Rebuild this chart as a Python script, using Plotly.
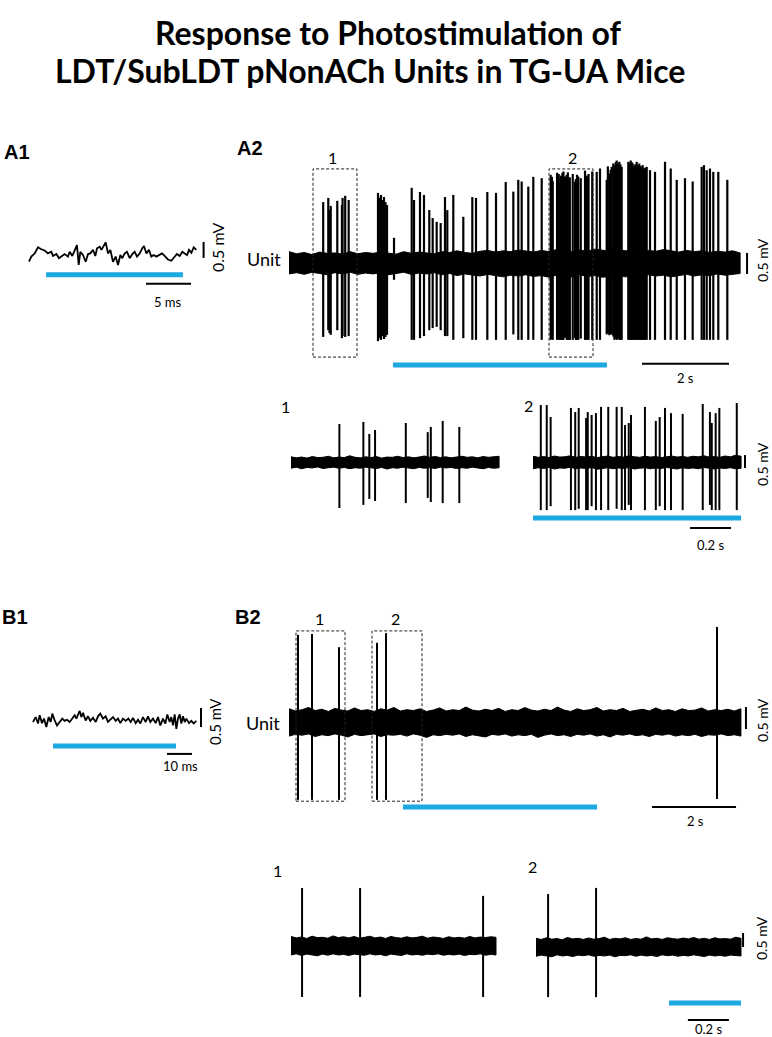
import numpy as np
import plotly.graph_objects as go

# ------------------------------------------------------------------ data
# A1: averaged trace around the light pulse (ms, mV)
A1_t = [0, 0.26, 0.63, 1.0, 1.37, 1.74, 2.11, 2.48, 2.67, 3.04, 3.33, 3.59, 3.96, 4.33, 4.52, 4.81, 5.07,
        5.33, 5.52, 5.70, 6.0, 6.30, 6.56, 6.81, 7.11, 7.37, 7.56, 7.85, 8.04, 8.30, 8.52, 8.78, 9.04, 9.33,
        9.63, 9.89, 10.15, 10.37, 10.63, 10.89, 11.19, 11.48, 11.74, 12.0, 12.30, 12.59, 12.78, 13.04, 13.33,
        13.59, 13.85, 14.15, 14.44, 14.78, 15.07, 15.44, 15.81, 16.19, 16.44, 16.74, 17.04, 17.30, 17.56,
        17.78, 18.04, 18.30, 18.59]
A1_v = [-0.21, -0.05, 0.05, 0.24, 0.18, 0.14, 0.05, 0.10, -0.03, 0.03, -0.10, -0.05, 0.03, -0.05, 0.10, -0.03,
        0.16, 0.31, -0.31, 0.10, 0.0, -0.21, 0.03, 0.05, 0.16, -0.03, 0.21, 0.26, 0.16, 0.31, 0.39, 0.05, 0.16,
        -0.21, -0.05, -0.31, 0.0, -0.10, 0.05, 0.10, -0.10, 0.03, 0.10, -0.05, 0.05, 0.21, 0.28, 0.05, 0.16,
        -0.05, 0.0, -0.05, 0.0, 0.05, -0.03, -0.14, -0.18, -0.05, 0.03, -0.03, 0.10, 0.05, 0.0, 0.16, 0.07,
        0.24, 0.16]
A1_stim = [1.9, 17.1]          # ms
A1_scale_t = 5                 # ms
A1_scale_v = 0.5               # mV

# B1
B1_t = [0, 1.07, 2.0, 2.67, 3.6, 4.4, 5.33, 6.27, 7.07, 7.73, 8.67, 9.6, 10.67, 11.73, 12.67, 13.6, 14.67,
        15.73, 16.67, 17.33, 18.0, 18.67, 19.33, 20.0, 21.07, 22.0, 22.93, 24.0, 25.07, 26.0, 26.93, 28.0,
        29.07, 30.0, 30.93, 32.0, 33.07, 34.0, 34.93, 36.0, 37.07, 38.13, 39.07, 40.0, 41.07, 42.0, 42.93,
        44.0, 45.07, 46.0, 46.93, 48.0, 49.07, 50.0, 50.93, 52.0, 52.93, 53.73, 54.67, 55.33, 56.0, 56.67,
        57.33, 58.0, 58.67, 59.33, 60.0, 60.67, 61.33, 62.4, 63.33, 64.27, 65.33]
B1_v = [0.0, 0.13, -0.04, 0.18, -0.03, 0.09, -0.13, 0.13, 0.0, 0.22, 0.04, -0.09, 0.0, 0.09, 0.03, 0.06, 0.0,
        0.09, 0.18, 0.09, 0.2, 0.29, 0.13, 0.24, 0.04, 0.15, 0.03, 0.11, 0.0, 0.15, 0.22, 0.09, 0.15, 0.0,
        0.06, 0.13, 0.03, 0.09, -0.03, 0.09, 0.03, 0.09, 0.0, 0.11, -0.03, 0.06, -0.04, 0.13, 0.0, 0.15, 0.0,
        0.09, -0.03, 0.13, -0.09, 0.09, -0.04, 0.2, 0.0, 0.13, -0.09, 0.2, -0.18, 0.09, 0.2, -0.04, 0.15, 0.0,
        0.09, -0.03, 0.03, -0.04, 0.03]
B1_stim = [8.0, 57.2]          # ms
B1_scale_t = 10                # ms

# A2 main recording (s, mV)
A2_dur = 10.37
A2_band_up = [0.27, 0.22, 0.25, 0.20, 0.26, 0.23, 0.24, 0.21, 0.27, 0.22, 0.25, 0.23, 0.26, 0.24, 0.21, 0.27,
              0.23, 0.26, 0.24, 0.22, 0.27, 0.25, 0.29, 0.25, 0.23, 0.28, 0.30, 0.26, 0.29, 0.27, 0.31, 0.28,
              0.26, 0.30, 0.27, 0.32, 0.29, 0.27, 0.31, 0.28, 0.33, 0.30, 0.28, 0.32, 0.29, 0.31, 0.27, 0.30,
              0.28, 0.32, 0.29, 0.26, 0.30, 0.27, 0.29, 0.25, 0.28, 0.26, 0.29, 0.24]
A2_band_lo = [-0.26, -0.23, -0.27, -0.22, -0.25, -0.28, -0.23, -0.26, -0.22, -0.27, -0.24, -0.26, -0.23, -0.28,
              -0.25, -0.22, -0.27, -0.24, -0.26, -0.23, -0.28, -0.25, -0.30, -0.26, -0.28, -0.31, -0.27, -0.30,
              -0.33, -0.29, -0.31, -0.28, -0.32, -0.30, -0.34, -0.29, -0.31, -0.33, -0.28, -0.32, -0.30, -0.34,
              -0.31, -0.29, -0.33, -0.30, -0.32, -0.28, -0.31, -0.29, -0.33, -0.30, -0.27, -0.31, -0.28, -0.30,
              -0.26, -0.29, -0.27, -0.25]
A2_spk_t = [0.786, 0.903, 0.931, 0.959, 1.110, 1.216, 1.232, 1.292, 1.372,
            2.046, 2.080, 2.115, 2.149, 2.184, 2.218, 2.253, 2.414,
            2.821, 2.874, 3.011, 3.103, 3.225, 3.303, 3.395, 3.487, 3.586, 3.639, 3.777, 4.007, 4.214, 4.299,
            4.559, 4.759, 4.982,
            5.157, 5.271, 5.349, 5.501, 5.616, 5.809,
            6.015, 6.044, 6.063, 6.162, 6.183, 6.200, 6.236, 6.244, 6.263, 6.284, 6.309, 6.344, 6.385, 6.410,
            6.426, 6.444, 6.455, 6.523, 6.576, 6.595, 6.621, 6.650, 6.707, 6.805, 6.840, 6.849, 6.868, 6.886,
            6.971,
            7.074, 7.149, 7.303, 7.330, 7.363, 7.395, 7.418, 7.455, 7.480, 7.510, 7.533, 7.565, 7.593, 7.620,
            7.648, 7.800, 7.830, 7.855, 7.880, 7.901, 7.930, 7.960, 7.993, 8.025, 8.053, 8.080, 8.108, 8.130,
            8.161, 8.190, 8.223, 8.299, 8.414, 8.644, 8.775, 8.913, 9.103, 9.280, 9.487, 9.540, 9.602, 9.678,
            9.754, 9.869, 10.076]
A2_spk_top = [1.45, 1.55, 1.26, 1.36, 1.48, 1.38, 1.55, 1.60, 1.50,
              1.67, 1.55, 1.62, 1.50, 1.57, 1.45, 1.38, 0.60,
              1.79, 1.50, 1.69, 1.62, 1.26, 1.07, 0.98, 0.95, 1.57, 1.26, 1.62, 1.10, 1.57, 1.55,
              1.69, 1.67, 1.93,
              1.70, 1.98, 1.94, 1.82, 2.05, 2.02,
              2.10, 2.05, 1.95, 2.15, 2.00, 2.12, 1.92, 2.08, 2.02, 2.14, 2.18, 2.06, 2.10, 2.16,
              1.90, 1.96, 2.04, 2.12, 1.94, 2.00, 2.10, 2.06, 2.02, 2.20, 2.08, 1.92, 2.04, 2.12,
              2.18,
              2.17, 2.25, 1.98, 2.30, 2.13, 2.22, 2.29, 2.37, 2.33, 2.40, 2.44, 2.36, 2.41, 2.35,
              2.29, 2.41, 2.38, 2.44, 2.40, 2.37, 2.30, 2.35, 2.41, 2.33, 2.37, 2.31, 2.29, 2.33,
              2.25, 2.27, 2.29, 2.21, 2.17, 2.41, 2.25, 1.98, 2.02, 1.94, 2.29, 2.33, 2.21, 2.25,
              2.17, 2.17, 1.98]
A2_spk_bot = [-1.76, -1.60, -1.67, -1.71, -1.60, -1.79, -1.74, -1.76, -1.74,
              -1.86, -1.79, -1.83, -1.74, -1.81, -1.76, -1.71, -0.40,
              -1.83, -1.83, -1.79, -1.74, -1.60, -1.55, -1.52, -1.60, -1.74, -1.74, -1.83, -1.79, -1.83, -1.83,
              -1.83, -1.83, -1.83,
              -1.70, -1.83, -1.83, -1.83, -1.83, -1.83,
              -1.83, -1.80, -1.83, -1.83, -1.78, -1.83, -1.83, -1.80, -1.83, -1.83, -1.83, -1.78, -1.83, -1.83,
              -1.80, -1.83, -1.83, -1.83, -1.78, -1.83, -1.83, -1.83, -1.80, -1.83, -1.83, -1.83, -1.78, -1.83,
              -1.83,
              -1.83, -1.83, -1.70, -1.68, -1.72, -1.70, -1.70, -1.75, -1.83, -1.80, -1.83, -1.80, -1.83, -1.83,
              -1.83, -1.83, -1.83, -1.83, -1.83, -1.83, -1.83, -1.83, -1.83, -1.83, -1.83, -1.83, -1.83, -1.83,
              -1.83, -1.83, -1.83, -1.83, -1.83, -1.83, -1.83, -1.83, -1.83, -1.83, -1.83, -1.83, -1.83, -1.83,
              -1.83, -1.83, -1.83]
A2_stim = [2.39, 7.31]
A2_boxes = [[0.552, 1.563], [5.977, 6.989]]
A2_box_v = [-2.24, 2.24]
A2_scale_t = 2      # s

# A2 insets (1 s windows)
A2i_dur = 1.015
A2i1_band_up = [0.20, 0.16, 0.19, 0.15, 0.21, 0.17, 0.18, 0.22, 0.16, 0.19, 0.17, 0.24, 0.18, 0.16, 0.20, 0.17,
                0.21, 0.15, 0.19, 0.18, 0.22, 0.17, 0.20, 0.16, 0.19, 0.23, 0.18, 0.21, 0.17, 0.20, 0.16, 0.19,
                0.22, 0.18, 0.20, 0.16, 0.21, 0.18, 0.19, 0.22]
A2i1_band_lo = [-0.24, -0.20, -0.26, -0.21, -0.23, -0.19, -0.25, -0.22, -0.20, -0.24, -0.21, -0.26, -0.22, -0.24,
                -0.20, -0.23, -0.25, -0.21, -0.27, -0.22, -0.24, -0.20, -0.23, -0.26, -0.21, -0.24, -0.22, -0.25,
                -0.20, -0.23, -0.21, -0.25, -0.22, -0.24, -0.20, -0.23, -0.26, -0.21, -0.24, -0.22]
A2i1_spk_t = [0.236, 0.353, 0.382, 0.410, 0.560, 0.667, 0.682, 0.740, 0.821]
A2i1_spk_top = [1.46, 1.54, 1.08, 1.23, 1.50, 1.15, 1.35, 1.58, 1.35]
A2i1_spk_bot = [-1.77, -1.65, -1.42, -1.50, -1.58, -1.38, -1.54, -1.58, -1.58]

A2i2_band_up = [0.22, 0.18, 0.21, 0.17, 0.23, 0.19, 0.20, 0.24, 0.18, 0.21, 0.19, 0.22, 0.17, 0.20, 0.23, 0.18,
                0.21, 0.19, 0.24, 0.20, 0.18, 0.22, 0.19, 0.21, 0.17, 0.20, 0.23, 0.19, 0.21, 0.18, 0.22, 0.20,
                0.24, 0.19, 0.21, 0.18, 0.23, 0.20, 0.26, 0.22]
A2i2_band_lo = [-0.26, -0.22, -0.25, -0.21, -0.27, -0.23, -0.24, -0.20, -0.26, -0.23, -0.25, -0.21, -0.28, -0.24,
                -0.22, -0.26, -0.23, -0.25, -0.21, -0.27, -0.24, -0.22, -0.26, -0.23, -0.25, -0.21, -0.24, -0.27,
                -0.22, -0.25, -0.23, -0.26, -0.21, -0.24, -0.27, -0.23, -0.25, -0.22, -0.26, -0.24]
A2i2_spk_t = [0.038, 0.067, 0.086, 0.185, 0.206, 0.223, 0.259, 0.267, 0.286, 0.307, 0.332, 0.367, 0.408, 0.433,
              0.449, 0.467, 0.478, 0.546, 0.599, 0.618, 0.644, 0.673, 0.730, 0.828, 0.863, 0.872, 0.891, 0.909,
              0.994]
A2i2_spk_top = [2.19, 2.19, 1.73, 2.08, 1.92, 2.08, 1.69, 1.92, 1.81, 1.88, 2.12, 2.12, 2.12, 2.12, 1.42, 1.50,
                1.81, 2.12, 1.58, 1.73, 2.08, 1.88, 1.85, 2.23, 1.92, 1.50, 1.88, 2.08, 2.27]
A2i2_spk_bot = [-1.85, -1.85, -1.70, -1.85, -1.85, -1.80, -1.85, -1.85, -1.70, -1.85, -1.85, -1.85, -1.80, -1.85,
                -1.85, -1.65, -1.85, -1.85, -1.85, -1.70, -1.85, -1.85, -1.85, -1.85, -1.65, -1.85, -1.85, -1.85,
                -1.85]
A2i_scale_t = 0.2   # s

# B2 main recording
B2_dur = 10.76
B2_band_up = [0.30, 0.25, 0.28, 0.33, 0.26, 0.29, 0.24, 0.31, 0.27, 0.25, 0.32, 0.26, 0.28, 0.24, 0.30, 0.27,
              0.33, 0.25, 0.28, 0.26, 0.30, 0.24, 0.27, 0.32, 0.25, 0.28, 0.26, 0.34, 0.27, 0.25, 0.29, 0.26,
              0.31, 0.24, 0.28, 0.26, 0.33, 0.27, 0.25, 0.29, 0.26, 0.34, 0.27, 0.24, 0.30, 0.26, 0.28, 0.33,
              0.25, 0.28, 0.26, 0.31, 0.24, 0.27, 0.29, 0.25, 0.32, 0.26, 0.28, 0.24, 0.30, 0.26, 0.27, 0.32,
              0.25, 0.28, 0.26, 0.29, 0.25, 0.30]
B2_band_lo = [-0.32, -0.28, -0.30, -0.27, -0.33, -0.29, -0.31, -0.27, -0.30, -0.34, -0.28, -0.31, -0.29, -0.27,
              -0.33, -0.29, -0.30, -0.28, -0.32, -0.27, -0.30, -0.35, -0.29, -0.31, -0.28, -0.30, -0.27, -0.33,
              -0.29, -0.31, -0.34, -0.28, -0.30, -0.27, -0.32, -0.29, -0.31, -0.28, -0.35, -0.30, -0.27, -0.31,
              -0.29, -0.33, -0.28, -0.30, -0.27, -0.32, -0.29, -0.34, -0.28, -0.30, -0.27, -0.31, -0.29, -0.33,
              -0.28, -0.30, -0.27, -0.32, -0.29, -0.31, -0.28, -0.33, -0.29, -0.30, -0.27, -0.31, -0.29, -0.32]
B2_spk_t = [0.214, 0.548, 1.190, 2.095, 2.310, 10.19]
B2_spk_top = [1.98, 2.00, 1.70, 1.80, 2.02, 2.16]
B2_spk_bot = [-1.77, -1.77, -1.77, -1.77, -1.77, -1.75]
B2_stim = [2.714, 7.333]
B2_boxes = [[0.167, 1.333], [1.976, 3.167]]
B2_box_v = [-1.80, 2.07]

# B2 insets
Bi_dur = 1.0
Bi1_band_up = [0.34, 0.29, 0.32, 0.27, 0.35, 0.30, 0.31, 0.28, 0.36, 0.30, 0.33, 0.29, 0.34, 0.28, 0.31, 0.35,
               0.29, 0.32, 0.27, 0.34, 0.30, 0.28, 0.33, 0.29, 0.31, 0.35, 0.28, 0.32, 0.30, 0.27, 0.33, 0.29,
               0.31, 0.28, 0.34, 0.29, 0.32, 0.30, 0.33, 0.31]
Bi1_band_lo = [-0.32, -0.28, -0.34, -0.29, -0.31, -0.35, -0.29, -0.33, -0.28, -0.32, -0.30, -0.34, -0.29, -0.31,
               -0.33, -0.28, -0.32, -0.30, -0.35, -0.29, -0.31, -0.34, -0.28, -0.32, -0.30, -0.33, -0.29, -0.31,
               -0.28, -0.33, -0.30, -0.32, -0.29, -0.34, -0.30, -0.31, -0.28, -0.33, -0.30, -0.32]
Bi1_spk_t = [0.054, 0.337, 0.937]
Bi1_spk_top = [2.07, 2.07, 1.79]
Bi1_spk_bot = [-1.82, -1.82, -1.82]
Bi2_band_up = [0.31, 0.27, 0.33, 0.28, 0.30, 0.26, 0.34, 0.29, 0.31, 0.27, 0.32, 0.28, 0.30, 0.35, 0.27, 0.31,
               0.29, 0.33, 0.27, 0.30, 0.28, 0.36, 0.29, 0.31, 0.27, 0.33, 0.30, 0.28, 0.32, 0.29, 0.34, 0.28,
               0.31, 0.27, 0.33, 0.29, 0.30, 0.28, 0.35, 0.31]
Bi2_band_lo = [-0.33, -0.29, -0.31, -0.35, -0.28, -0.32, -0.30, -0.34, -0.29, -0.31, -0.28, -0.33, -0.30, -0.32,
               -0.29, -0.35, -0.30, -0.31, -0.28, -0.33, -0.29, -0.32, -0.30, -0.34, -0.28, -0.31, -0.29, -0.33,
               -0.30, -0.32, -0.28, -0.31, -0.34, -0.29, -0.32, -0.30, -0.33, -0.29, -0.31, -0.32]
Bi2_spk_t = [0.059, 0.293]
Bi2_spk_top = [1.89, 2.11]
Bi2_spk_bot = [-1.79, -1.79]
Bi2_stim = [0.649, 1.0]
Bi_scale_t = 0.2

# ------------------------------------------------------------------ layout helpers
W, H = 772, 1037
BLACK = "#000000"
BLUE = "#1CA9E1"
fig = go.Figure()


def add_panel(n, box, origin, scale):
    x0, x1, y0, y1 = box
    ox, oy = origin
    sx, sy = scale
    xa = "xaxis" if n == 1 else f"xaxis{n}"
    ya = "yaxis" if n == 1 else f"yaxis{n}"
    fig.update_layout(**{
        xa: dict(domain=[x0 / W, x1 / W], range=[(x0 - ox) / sx, (x1 - ox) / sx], visible=False,
                 fixedrange=True, anchor="y" if n == 1 else f"y{n}"),
        ya: dict(domain=[1 - y1 / H, 1 - y0 / H], range=[(oy - y1) / sy, (oy - y0) / sy], visible=False,
                 fixedrange=True, anchor="x" if n == 1 else f"x{n}"),
    })
    return ("x" if n == 1 else f"x{n}", "y" if n == 1 else f"y{n}")


def line(ax, xs, ys, color=BLACK, width=1.6, dash=None):
    fig.add_trace(go.Scatter(x=xs, y=ys, mode="lines", xaxis=ax[0], yaxis=ax[1], hoverinfo="skip",
                             showlegend=False, line=dict(color=color, width=width, dash=dash)))


def band(ax, dur, up, lo):
    t = list(np.linspace(0, dur, len(up)))
    fig.add_trace(go.Scatter(x=t + t[::-1], y=list(up) + list(lo)[::-1], mode="lines", fill="toself",
                             fillcolor=BLACK, xaxis=ax[0], yaxis=ax[1], hoverinfo="skip", showlegend=False,
                             line=dict(color=BLACK, width=1)))


def spikes(ax, ts, tops, bots, width=2.0):
    xs, ys = [], []
    for t, a, b in zip(ts, tops, bots):
        xs += [t, t, None]
        ys += [b, a, None]
    line(ax, xs, ys, width=width)


def boxes(ax, spans, v):
    for a, b in spans:
        line(ax, [a, b, b, a, a], [v[0], v[0], v[1], v[1], v[0]], color="#222222", width=1, dash="3px,2px")


def hbar(ax, t0, t1, v, color=BLACK, width=2):
    line(ax, [t0, t1], [v, v], color=color, width=width)


def vbar(ax, t, v0, v1, width=2):
    line(ax, [t, t], [v0, v1], width=width)


def text(xpx, ypx, s, size=14, angle=0, bold=False, family="Lato", xanchor="center"):
    fig.add_annotation(x=xpx / W, y=1 - ypx / H, xref="paper", yref="paper", text=s, showarrow=False,
                       textangle=angle, xanchor=xanchor, yanchor="middle",
                       font=dict(size=size, family=family, color=BLACK, weight="bold" if bold else "normal"))


# ------------------------------------------------------------------ panels
A1 = add_panel(1, (0, 240, 190, 320), (29, 255), (9, 32))
A2 = add_panel(2, (240, 772, 130, 395), (289, 263), (43.5, 42))
A2i1 = add_panel(3, (270, 520, 395, 560), (291, 462), (205, 26))
A2i2 = add_panel(4, (520, 772, 395, 560), (533, 462), (205, 26))
B1 = add_panel(5, (0, 240, 660, 790), (33, 722), (2.5, 38))
B2 = add_panel(6, (240, 772, 600, 835), (289, 722), (42, 44))
Bi1 = add_panel(7, (260, 520, 850, 1037), (291, 946), (205, 28))
Bi2 = add_panel(8, (520, 772, 850, 1037), (536, 947), (205, 28))

# A1
line(A1, A1_t, A1_v, width=1.8)
hbar(A1, A1_stim[0], A1_stim[1], -0.62, color=BLUE, width=5)
hbar(A1, 13.0, 13.0 + A1_scale_t, -0.90)
vbar(A1, 19.4, -0.09, -0.09 + A1_scale_v)

# A2
band(A2, A2_dur, A2_band_up, A2_band_lo)
spikes(A2, A2_spk_t, A2_spk_top, A2_spk_bot, width=2.2)
boxes(A2, A2_boxes, A2_box_v)
hbar(A2, A2_stim[0], A2_stim[1], -2.43, color=BLUE, width=5)
hbar(A2, 8.115, 8.115 + A2_scale_t, -2.40)
vbar(A2, 10.53, -0.26, 0.24)

# A2 insets
band(A2i1, A2i_dur, A2i1_band_up, A2i1_band_lo)
spikes(A2i1, A2i1_spk_t, A2i1_spk_top, A2i1_spk_bot)
band(A2i2, A2i_dur, A2i2_band_up, A2i2_band_lo)
spikes(A2i2, A2i2_spk_t, A2i2_spk_top, A2i2_spk_bot)
hbar(A2i2, 0, A2i_dur, -2.15, color=BLUE, width=5)
hbar(A2i2, 0.766, 0.766 + A2i_scale_t, -2.54)
vbar(A2i2, 1.034, -0.23, 0.27)

# B1
line(B1, B1_t, B1_v, width=1.8)
hbar(B1, B1_stim[0], B1_stim[1], -0.63, color=BLUE, width=5)
hbar(B1, 53.6, 53.6 + B1_scale_t, -0.84)
vbar(B1, 67.2, -0.13, 0.37)

# B2
band(B2, B2_dur, B2_band_up, B2_band_lo)
spikes(B2, B2_spk_t, B2_spk_top, B2_spk_bot)
boxes(B2, B2_boxes, B2_box_v)
hbar(B2, B2_stim[0], B2_stim[1], -1.93, color=BLUE, width=5)
hbar(B2, 8.643, 8.643 + A2_scale_t, -1.93)
vbar(B2, 10.88, -0.16, 0.34)

# B2 insets
band(Bi1, Bi_dur, Bi1_band_up, Bi1_band_lo)
spikes(Bi1, Bi1_spk_t, Bi1_spk_top, Bi1_spk_bot)
band(Bi2, Bi_dur, Bi2_band_up, Bi2_band_lo)
spikes(Bi2, Bi2_spk_t, Bi2_spk_top, Bi2_spk_bot)
hbar(Bi2, Bi2_stim[0], Bi2_stim[1], -2.0, color=BLUE, width=5)
hbar(Bi2, 0.741, 0.741 + Bi_scale_t, -2.61)
vbar(Bi2, 1.01, 0.0, 0.5)

# ------------------------------------------------------------------ texts
text(388, 33, "Response to Photostimulation of", size=32, bold=True)
text(370, 71, "LDT/SubLDT pNonACh Units in TG-UA Mice", size=32, bold=True)

text(17, 152, "A1", size=20, bold=True, family="Liberation Sans")
text(250, 148, "A2", size=20, bold=True, family="Liberation Sans")
text(15, 617, "B1", size=20, bold=True, family="Liberation Sans")
text(248, 617, "B2", size=20, bold=True, family="Liberation Sans")

text(168, 302, "5 ms", size=13)
text(218, 247, "0.5 mV", size=16, angle=-90)
text(283, 259, "Unit", size=18, xanchor="right")
text(332, 157, "1", size=16)
text(572, 157, "2", size=16)
text(685, 378, "2 s", size=13)
text(762, 260, "0.5 mV", size=14, angle=-90)
text(285, 407, "1", size=16)
text(528, 405, "2", size=16)
text(710, 545, "0.2 s", size=13)
text(762, 464, "0.5 mV", size=14, angle=-90)

text(180, 766, "10 ms", size=13)
text(215, 722, "0.5 mV", size=15, angle=-90)
text(282, 723, "Unit", size=18, xanchor="right")
text(319, 618, "1", size=16)
text(395, 618, "2", size=16)
text(695, 821, "2 s", size=13)
text(762, 720, "0.5 mV", size=14, angle=-90)
text(277, 870, "1", size=16)
text(532, 866, "2", size=16)
text(708, 1029, "0.2 s", size=13)
text(761, 938, "0.5 mV", size=14, angle=-90)

fig.update_layout(width=W, height=H, margin=dict(l=0, r=0, t=0, b=0), paper_bgcolor="white",
                  plot_bgcolor="white", showlegend=False)
fig.write_html("out.html", config={"displayModeBar": False},
               post_script="document.body.style.margin='0px';")
